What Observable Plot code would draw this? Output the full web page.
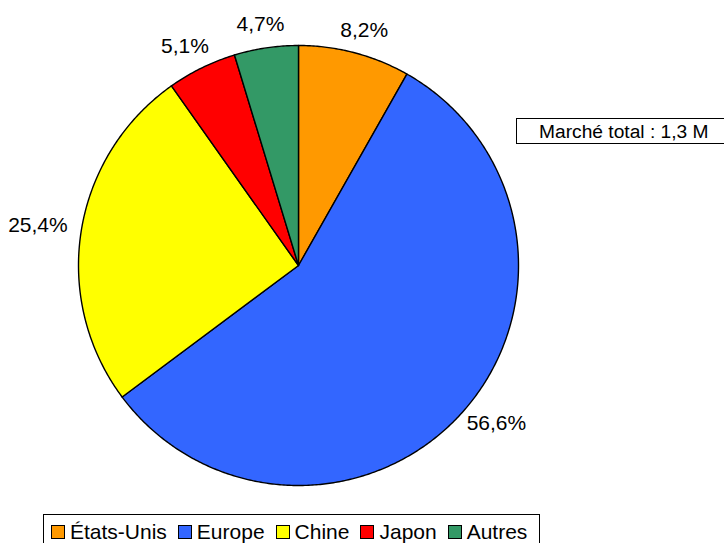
<!DOCTYPE html>
<html>
<head>
<meta charset="utf-8">
<script src="https://cdn.jsdelivr.net/npm/d3@7"></script>
<script src="https://cdn.jsdelivr.net/npm/@observablehq/plot@0.6"></script>
<style>
  html, body { margin: 0; padding: 0; background: #fff; overflow: hidden; }
  body { width: 724px; height: 543px; position: relative; font-family: "Liberation Sans", Arial, sans-serif; }
  #chart svg { display: block; }
  #total { position: absolute; left: 516px; top: 118px; width: 214px; height: 24px; border: 1px solid #000;
           font-size: 19.2px; line-height: 25px; box-sizing: content-box; padding-left: 22px; color: #000; background: #fff; }
  #legend { position: absolute; left: 43px; top: 514px; width: 497px; height: 34px; border: 1px solid #000;
            display: flex; align-items: flex-start; padding-top: 6px; padding-left: 7px; box-sizing: border-box; font-size: 21px; white-space: nowrap; }
  .item { display: flex; align-items: center; margin-right: 11px; height: 22px; flex-shrink: 0; }
  .sw { width: 12px; height: 12px; border: 1px solid #000; margin-right: 5px; flex-shrink: 0; }
</style>
</head>
<body>
<div id="chart"></div>
<div id="total"></div>
<div id="legend"></div>
<script>
const categories = ["États-Unis", "Europe", "Chine", "Japon", "Autres"];
const shares = [8.2, 56.6, 25.4, 5.1, 4.7];
const colors = ["#FF9900", "#3366FF", "#FFFF00", "#FF0000", "#339966"];
const totalLabel = "Marché total : 1,3 M";

const R_PX = 220;          // pie radius in pixels
const LABEL_FONT = 21;
const data = categories.map((c, i) => ({category: c, value: shares[i]}));
const arcs = d3.pie().sort(null).value(d => d.value)(data);

const pts = [];
for (const a of arcs) {
  pts.push({category: a.data.category, x: 0, y: 0});
  const n = Math.max(2, Math.ceil((a.endAngle - a.startAngle) / (Math.PI / 360)));
  for (let k = 0; k <= n; k++) {
    const t = a.startAngle + (a.endAngle - a.startAngle) * k / n;
    pts.push({category: a.data.category, x: Math.sin(t), y: Math.cos(t)});
  }
}
const fmt = v => v.toFixed(1).replace(".", ",") + "%";
const ctx = document.createElement("canvas").getContext("2d");
ctx.font = `${LABEL_FONT}px "Liberation Sans", Arial, sans-serif`;
const labels = arcs.map(a => {
  const m = (a.startAngle + a.endAngle) / 2;
  const text = fmt(a.data.value);
  const w = ctx.measureText(text).width;
  const h = 15;
  const R0 = 1.064;
  return {
    text,
    x: R0 * Math.sin(m) + (w / 2) * Math.sin(m) / R_PX,
    y: R0 * Math.cos(m) + (h / 2) * Math.cos(m) / R_PX
  };
});

const plot = Plot.plot({
  width: 724,
  height: 512,
  margin: 0,
  style: {fontFamily: "Liberation Sans, Arial, sans-serif", background: "#fff"},
  x: {domain: [-1, 1], range: [298 - R_PX, 298 + R_PX], axis: null},
  y: {domain: [-1, 1], range: [265 + R_PX, 265 - R_PX], axis: null},
  color: {domain: categories, range: colors},
  marks: [
    Plot.line(pts, {x: "x", y: "y", z: "category", fill: "category", stroke: "#000", strokeWidth: 1.4, curve: "linear-closed"}),
    Plot.text(labels, {x: "x", y: "y", text: "text", fontSize: LABEL_FONT, fill: "#000", textAnchor: "middle", lineAnchor: "middle", dy: -2})
  ]
});
document.getElementById("chart").appendChild(plot);

document.getElementById("total").textContent = totalLabel;

const leg = document.getElementById("legend");
categories.forEach((c, i) => {
  const it = document.createElement("div"); it.className = "item";
  const sw = document.createElement("div"); sw.className = "sw"; sw.style.background = colors[i];
  const tx = document.createElement("span"); tx.textContent = c;
  it.appendChild(sw); it.appendChild(tx); leg.appendChild(it);
});
</script>
</body>
</html>
